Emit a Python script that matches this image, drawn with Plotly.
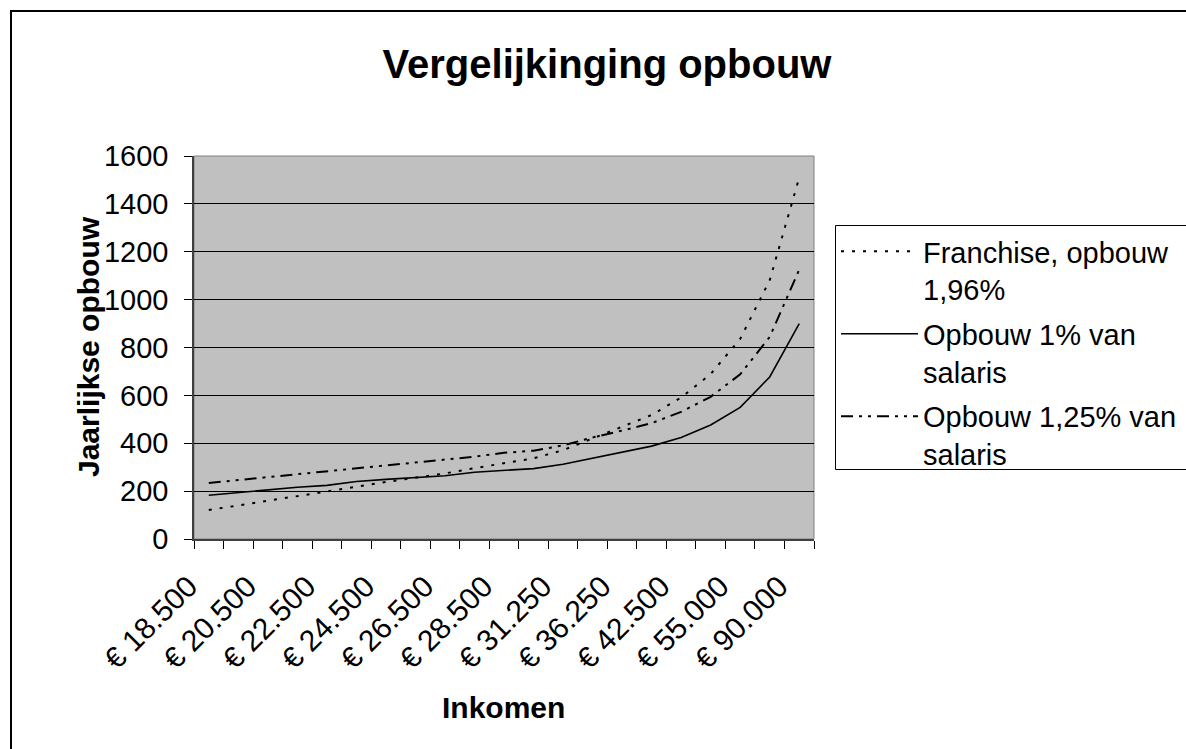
import plotly.graph_objects as go

# ---- data ----
categories = ["€ 18.500", "€ 19.500", "€ 20.500", "€ 21.500", "€ 22.500", "€ 23.500",
              "€ 24.500", "€ 25.500", "€ 26.500", "€ 27.500", "€ 28.500", "€ 29.500",
              "€ 31.250", "€ 33.750", "€ 36.250", "€ 38.750", "€ 42.500", "€ 47.500",
              "€ 55.000", "€ 67.500", "€ 90.000"]
franchise = [121, 140, 158, 178, 198, 218, 238, 256, 274, 296, 317, 337,
             371, 420, 469, 518, 591, 689, 836, 1081, 1510]
opbouw_1 = [183, 194, 206, 216, 224, 240, 249, 256, 264, 279, 288, 294,
            312, 337, 364, 388, 424, 476, 550, 677, 900]
opbouw_125 = [234, 246, 257, 269, 281, 294, 306, 319, 331, 344, 360, 369,
              391, 424, 453, 484, 531, 594, 688, 844, 1125]
y_ticks = [0, 200, 400, 600, 800, 1000, 1200, 1400, 1600]
names = ["Franchise, opbouw<br>1,96%", "Opbouw 1% van<br>salaris",
         "Opbouw 1,25% van<br>salaris"]

FONT = "Liberation Sans, Arial, sans-serif"
W, H = 1186, 749
L, R, T, B = 194, 814, 156, 539  # plot area in pixels

def px_x(p):
    return (p - L) / (R - L)

def px_y(p):
    return (B - p) / (B - T)

x_idx = list(range(len(categories)))
label_idx = x_idx[::2]

fig = go.Figure()
fig.add_trace(go.Scatter(x=x_idx, y=franchise, mode="lines", name=names[0], legendgroup="a",
                         line=dict(color="black", width=2, dash="3px,8px")))
fig.add_trace(go.Scatter(x=x_idx, y=opbouw_1, mode="lines", name=names[1], legendgroup="b",
                         line=dict(color="black", width=1.6)))
fig.add_trace(go.Scatter(x=x_idx, y=opbouw_125, mode="lines", name=names[2], legendgroup="c",
                         line=dict(color="black", width=2, dash="12px,6px,3px,6px,3px,6px")))

fig.update_layout(
    width=W, height=H,
    margin=dict(l=L, r=W - R, t=T, b=H - B, autoexpand=False),
    paper_bgcolor="white", plot_bgcolor="#C0C0C0",
    font=dict(family=FONT, color="black", size=28),
    hovermode=False,
    title=dict(text="<b>Vergelijkinging opbouw</b>", font=dict(size=40, family=FONT, color="black"),
               xref="paper", x=px_x(607), xanchor="center",
               yref="container", y=1 - 64 / H, yanchor="middle"),
    legend=dict(x=px_x(836), y=px_y(226), xanchor="left", yanchor="top",
                borderwidth=0, bgcolor="rgba(0,0,0,0)",
                font=dict(size=29, family=FONT, color="black"),
                itemwidth=77, valign="top", traceorder="grouped", tracegroupgap=4),
    xaxis=dict(range=[-0.5, len(categories) - 0.5], tickmode="array",
               tickvals=label_idx, ticktext=[categories[i] for i in label_idx],
               tickangle=-45, ticks="outside", ticklen=8, tickcolor="rgba(0,0,0,0)",
               tickfont=dict(size=30, family=FONT, color="black"),
               ticklabelshift=-20, ticklabelstandoff=8,
               showline=True, linecolor="#404040", linewidth=1.5,
               showgrid=False, zeroline=False,
               minor=dict(tickvals=[i - 0.5 for i in range(len(categories) + 1)],
                          ticks="outside", ticklen=8, tickcolor="black", tickwidth=1,
                          showgrid=False)),
    yaxis=dict(range=[0, 1600], tickmode="array", tickvals=y_ticks,
               ticks="outside", ticklen=8, tickcolor="black", tickwidth=1,
               tickfont=dict(size=29, family=FONT, color="black"),
               showline=True, linecolor="#404040", linewidth=1.5,
               showgrid=True, gridcolor="black", gridwidth=1, zeroline=False,
               ticklabelstandoff=10),
    annotations=[
        dict(text="<b>Inkomen</b>", xref="paper", yref="paper", x=px_x(503), y=px_y(707),
             xanchor="center", yanchor="middle", showarrow=False,
             font=dict(size=30, family=FONT, color="black")),
        dict(text="<b>Jaarlijkse opbouw</b>", xref="paper", yref="paper", x=px_x(88), y=px_y(347),
             xanchor="center", yanchor="middle", showarrow=False, textangle=-90,
             font=dict(size=30, family=FONT, color="black")),
    ],
    shapes=[
        dict(type="rect", xref="paper", yref="paper", x0=0, x1=1, y0=0, y1=1,
             line=dict(color="#808080", width=1), layer="below"),
        # legend frame (runs past the right edge, as in the reference)
        dict(type="rect", xref="paper", yref="paper", x0=px_x(835.5), x1=px_x(1300),
             y0=px_y(225.5), y1=px_y(469.5), line=dict(color="black", width=1)),
        # outer chart frame
        dict(type="rect", xref="paper", yref="paper", x0=px_x(11), x1=px_x(1300),
             y0=px_y(11), y1=px_y(800), line=dict(color="black", width=2)),
    ],
)

fig.write_html("out.html", config={"displayModeBar": False},
               post_script="document.body.style.margin='0px';")
